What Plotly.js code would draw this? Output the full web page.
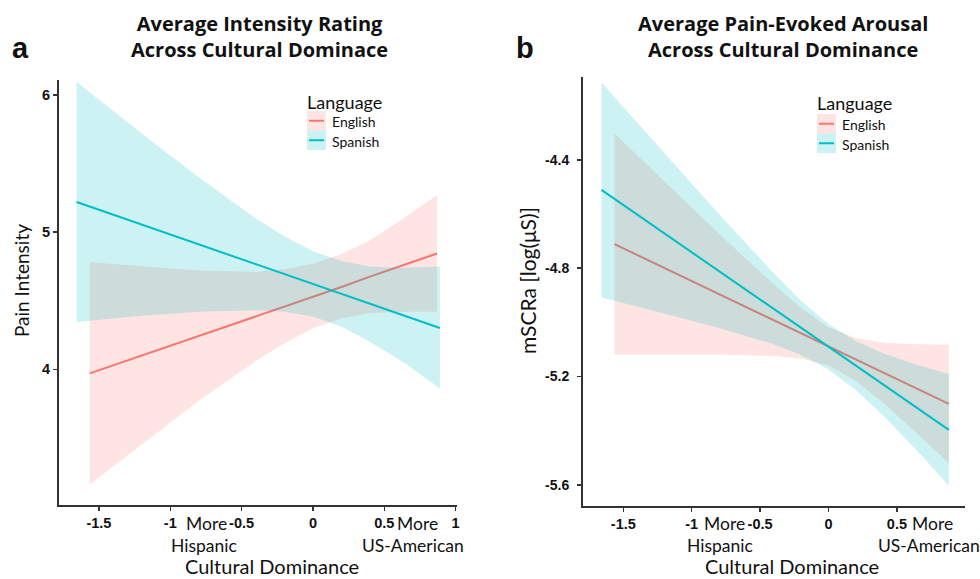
<!DOCTYPE html>
<html>
<head>
<meta charset="utf-8">
<script src="https://cdn.plot.ly/plotly-3.0.1.min.js"></script>
<style>html,body{margin:0;padding:0;background:#fff;}#chart{width:980px;height:579px;}</style>
</head>
<body>
<div id="chart"></div>
<script>
// ---------- Data ----------
// Panel a: Pain Intensity
const engX_a    = [-1.565, -1.2, -0.8, -0.4, -0.2, 0, 0.2, 0.4, 0.65, 0.87];
const engFit_a  = [3.97, 4.10, 4.245, 4.39, 4.46, 4.53, 4.60, 4.676, 4.766, 4.845];
const engLow_a  = [3.16, 3.45, 3.77, 4.06, 4.19, 4.30, 4.37, 4.41, 4.42, 4.42];
const engHigh_a = [4.78, 4.75, 4.72, 4.71, 4.73, 4.77, 4.84, 4.94, 5.11, 5.27];

const spaX_a    = [-1.656, -1.2, -0.8, -0.4, -0.2, 0, 0.2, 0.4, 0.65, 0.89];
const spaFit_a  = [5.22, 5.055, 4.911, 4.767, 4.695, 4.622, 4.55, 4.478, 4.388, 4.301];
const spaLow_a  = [4.345, 4.39, 4.42, 4.43, 4.42, 4.385, 4.31, 4.20, 4.04, 3.86];
const spaHigh_a = [6.095, 5.72, 5.40, 5.10, 4.97, 4.86, 4.79, 4.75, 4.74, 4.75];

// Panel b: mSCRa
const engX_b    = [-1.565, -1.2, -0.8, -0.4, -0.2, 0, 0.2, 0.4, 0.65, 0.88];
const engFit_b  = [-4.711, -4.799, -4.896, -4.992, -5.040, -5.089, -5.137, -5.186, -5.246, -5.301];
const engLow_b  = [-5.119, -5.118, -5.119, -5.124, -5.133, -5.159, -5.216, -5.297, -5.411, -5.519];
const engHigh_b = [-4.303, -4.480, -4.673, -4.860, -4.947, -5.019, -5.058, -5.075, -5.081, -5.083];

const spaX_b    = [-1.66, -1.2, -0.8, -0.4, -0.2, 0, 0.2, 0.4, 0.65, 0.88];
const spaFit_b  = [-4.511, -4.671, -4.811, -4.950, -5.020, -5.090, -5.160, -5.229, -5.316, -5.397];
const spaLow_b  = [-4.908, -4.967, -5.021, -5.081, -5.120, -5.174, -5.250, -5.344, -5.475, -5.603];
const spaHigh_b = [-4.114, -4.375, -4.601, -4.819, -4.920, -5.006, -5.070, -5.114, -5.157, -5.191];

const xTickVals   = [-1.5, -1, -0.5, 0, 0.5, 1];
const xTickText   = ["-1.5", "-1", "-0.5", "0", "0.5", "1"];
const yTickVals_a = [4, 5, 6];
const yTickText_a = ["4", "5", "6"];
const yTickVals_b = [-5.6, -5.2, -4.8, -4.4];
const yTickText_b = ["-5.6", "-5.2", "-4.8", "-4.4"];
const languages   = ["English", "Spanish"];
const titles      = ["Average Intensity Rating<br>Across Cultural Dominace",
                     "Average Pain-Evoked Arousal<br>Across Cultural Dominance"];

// ---------- Styling ----------
const W = 980, H = 579;
const px = v => v / W;
const py = v => 1 - v / H;
const engLine = "#F8766D", spaLine = "#00BFC4";
const engFill = "rgba(248,118,109,0.2)", spaFill = "rgba(0,191,196,0.2)";
const TXT = "Lato, 'Open Sans', sans-serif";
const TICK = "'Liberation Sans', Arial, sans-serif";

function band(x, lo, hi, fill, xa, ya) {
  return {
    x: x.concat(x.slice().reverse()),
    y: hi.concat(lo.slice().reverse()),
    type: "scatter", mode: "lines", fill: "toself", fillcolor: fill,
    line: {width: 0, color: "rgba(0,0,0,0)"}, hoverinfo: "skip", showlegend: false,
    xaxis: xa, yaxis: ya
  };
}
function fitLine(x, y, color, xa, ya, name) {
  return {x: x, y: y, type: "scatter", mode: "lines", name: name,
    line: {color: color, width: 2}, showlegend: false, xaxis: xa, yaxis: ya};
}

const traces = [
  band(engX_a, engLow_a, engHigh_a, engFill, "x", "y"),
  fitLine(engX_a, engFit_a, engLine, "x", "y", languages[0]),
  band(spaX_a, spaLow_a, spaHigh_a, spaFill, "x", "y"),
  fitLine(spaX_a, spaFit_a, spaLine, "x", "y", languages[1]),
  band(engX_b, engLow_b, engHigh_b, engFill, "x2", "y2"),
  fitLine(engX_b, engFit_b, engLine, "x2", "y2", languages[0]),
  band(spaX_b, spaLow_b, spaHigh_b, spaFill, "x2", "y2"),
  fitLine(spaX_b, spaFit_b, spaLine, "x2", "y2", languages[1])
];

const axisBase = {
  showgrid: false, zeroline: false, showline: true, linecolor: "#333", linewidth: 2,
  ticks: "outside", ticklen: 4, tickwidth: 1.5, tickcolor: "#333",
  tickfont: {family: TICK, size: 14.5, color: "#111", weight: "bold"},
  tickmode: "array", fixedrange: true
};

const layout = {
  width: W, height: H, margin: {l: 0, r: 0, t: 0, b: 0},
  paper_bgcolor: "#fff", plot_bgcolor: "#fff", showlegend: false,
  xaxis: Object.assign({}, axisBase, {domain: [px(59), px(457)], range: [-1.78, 1.01],
    tickvals: xTickVals, ticktext: xTickText, anchor: "y"}),
  yaxis: Object.assign({}, axisBase, {domain: [py(505), py(80)], range: [3.01, 6.11],
    tickvals: yTickVals_a, ticktext: yTickText_a, anchor: "x"}),
  xaxis2: Object.assign({}, axisBase, {domain: [px(583), px(965)], range: [-1.795, 0.998],
    tickvals: xTickVals, ticktext: xTickText, anchor: "y2"}),
  yaxis2: Object.assign({}, axisBase, {domain: [py(506), py(77)], range: [-5.678, -4.094],
    tickvals: yTickVals_b, ticktext: yTickText_b, anchor: "x2", ticklabelstandoff: 5,
    tickfont: {family: "'Liberation Sans Narrow', 'Liberation Sans', Arial, sans-serif", size: 14, color: "#111", weight: "bold"}}),
  annotations: [],
  shapes: []
};

function note(text, x, y, size, opts) {
  layout.annotations.push(Object.assign({
    text: text, xref: "paper", yref: "paper", x: px(x), y: py(y),
    xanchor: "center", yanchor: "middle", showarrow: false, borderpad: 0,
    font: {family: TXT, size: size, color: "#111"}
  }, opts || {}));
}

// Panel letters
note("a", 20, 48, 29, {font: {family: "'Liberation Sans', Arial", size: 29, color: "#111", weight: "bold"}});
note("b", 525, 48, 29, {font: {family: "'Liberation Sans', Arial", size: 29, color: "#111", weight: "bold"}});

// Titles (two lines each)
const titleFont = {family: "'Open Sans', Lato, sans-serif", size: 20, color: "#111", weight: "bold"};
note(titles[0], 259, 36, 20, {font: titleFont});
note(titles[1], 783, 36, 20, {font: titleFont});

// Axis titles
note("Cultural Dominance", 272, 566, 20);
note("Cultural Dominance", 792, 566, 20);
note("Pain Intensity", 21, 281, 19, {textangle: -90});
note("mSCRa [log(μS)]", 527, 281, 21, {textangle: -90});

// Direction labels
note("More", 206, 523, 17.5); note("Hispanic", 204, 545, 17.5);
note("More", 417, 523, 17.5); note("US-American", 413, 545, 17.5);
note("More", 724, 523, 17.5); note("Hispanic", 720, 545, 17.5);
note("More", 932, 523, 17.5); note("US-American", 929, 545, 17.5);

// Legends (ggplot-style keys)
function legend(x0, yTitle, yBox0, boxH, xText) {
  note("Language", x0, yTitle, 18, {xanchor: "left"});
  layout.annotations[layout.annotations.length - 1].x = px(x0 - 1);
  const fills = [engFill, spaFill], lines = [engLine, spaLine];
  for (let i = 0; i < 2; i++) {
    const y0 = yBox0 + i * boxH, y1 = y0 + boxH;
    layout.shapes.push({type: "rect", xref: "paper", yref: "paper",
      x0: px(x0), x1: px(x0 + 19), y0: py(y1), y1: py(y0),
      fillcolor: fills[i], line: {width: 0}});
    layout.shapes.push({type: "line", xref: "paper", yref: "paper",
      x0: px(x0 + 2), x1: px(x0 + 17), y0: py((y0 + y1) / 2), y1: py((y0 + y1) / 2),
      line: {color: lines[i], width: 2}});
    note(languages[i], xText, (y0 + y1) / 2 + 1, 14, {xanchor: "left"});
    layout.annotations[layout.annotations.length - 1].x = px(xText);
  }
}
legend(307, 102, 111, 19.5, 331);
legend(817, 103, 114, 19.5, 841);

Plotly.newPlot("chart", traces, layout, {staticPlot: true, displayModeBar: false});
</script>
</body>
</html>
